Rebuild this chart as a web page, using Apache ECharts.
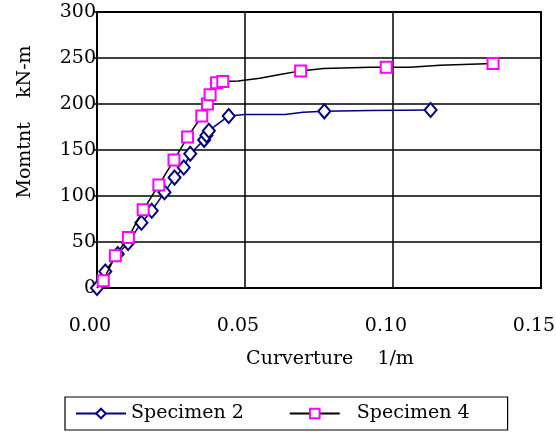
<!DOCTYPE html>
<html>
<head>
<meta charset="utf-8">
<script src="https://cdn.jsdelivr.net/npm/echarts@6/dist/echarts.min.js"></script>
<style>
  html, body { margin: 0; padding: 0; background: #fff; }
  #chart { width: 556px; height: 434px; }
</style>
</head>
<body>
<div id="chart"></div>
<script>
// Moment–curvature test results
const seriesNames = ['Specimen 2', 'Specimen 4'];

// Specimen 2: measured points (drawn with diamonds)
const spec2Curvature = [0.000, 0.0028, 0.0070, 0.0105, 0.0150, 0.0185, 0.0228, 0.0262, 0.0293, 0.0315, 0.0362, 0.0370, 0.0378, 0.0445, 0.0768, 0.1127];
const spec2Moment    = [0, 18, 37, 49, 71, 84, 104, 120, 131, 146, 161, 166, 171, 187, 192, 193.5];
// Specimen 2: extra curve points between markers
const spec2CurveX = [0.050, 0.0635, 0.0696, 0.0922];
const spec2CurveY = [188.5, 188.5, 191, 193];

// Specimen 4: measured points (drawn with squares)
const spec4Curvature = [0.0021, 0.0062, 0.0106, 0.0156, 0.0209, 0.0260, 0.0306, 0.0354, 0.0373, 0.0382, 0.0404, 0.0425, 0.0688, 0.0977, 0.1338];
const spec4Moment    = [8, 35, 55, 85, 112, 139, 164, 187, 200, 210, 223, 224.5, 236, 240, 244];
// Specimen 4: extra curve points between markers
const spec4CurveX = [0.000, 0.0477, 0.055, 0.0618, 0.0765, 0.0922, 0.1057, 0.1159];
const spec4CurveY = [0, 225, 228, 232, 238.5, 240, 240, 242];

const xTicks = [0, 0.05, 0.10, 0.15];
const yTicks = [0, 50, 100, 150, 200, 250, 300];

const FONT = 'DejaVu Serif';

function buildData(mx, my, cx, cy) {
  const pts = [];
  mx.forEach((x, i) => pts.push({ value: [x, my[i]] }));
  cx.forEach((x, i) => pts.push({ value: [x, cy[i]], symbol: 'none' }));
  pts.sort((a, b) => a.value[0] - b.value[0]);
  return pts;
}

// plain axis used only to close the plot frame on the top / right
function frameAxis(position, min, max) {
  return {
    type: 'value', position, min, max,
    axisLine: { show: true, onZero: false, lineStyle: { color: '#000', width: 2 } },
    axisTick: { show: false },
    axisLabel: { show: false },
    splitLine: { show: false }
  };
}

const chart = echarts.init(document.getElementById('chart'), null, { renderer: 'canvas' });

chart.setOption({
  animation: false,
  backgroundColor: '#fff',
  textStyle: { fontFamily: FONT, color: '#000' },
  grid: {
    left: 97, right: 15, top: 12, bottom: 146,
    outerBoundsMode: 'none',
    containLabel: false,
    show: true, borderColor: '#000', borderWidth: 2, backgroundColor: 'transparent'
  },
  xAxis: [{
    type: 'value',
    min: xTicks[0], max: xTicks[xTicks.length - 1], interval: 0.05,
    name: 'Curverture    1/m',
    nameLocation: 'middle',
    nameGap: 62,
    nameTextStyle: { fontFamily: FONT, fontSize: 19, color: '#000', padding: [0, 0, 0, 22] },
    axisLine: { show: true, lineStyle: { color: '#000', width: 2 } },
    axisTick: { show: false },
    axisLabel: {
      fontFamily: FONT, fontSize: 19, color: '#000', margin: 29,
      padding: [0, 14, 0, 0],
      formatter: v => v.toFixed(2)
    },
    splitLine: { show: true, lineStyle: { color: '#000', width: 1.5 } }
  }, frameAxis('top', xTicks[0], xTicks[xTicks.length - 1])],
  yAxis: [{
    type: 'value',
    min: yTicks[0], max: yTicks[yTicks.length - 1], interval: 50,
    name: 'Momtnt    kN-m',
    nameLocation: 'middle',
    nameGap: 62,
    nameRotate: 90,
    nameTextStyle: { fontFamily: FONT, fontSize: 19, color: '#000', padding: [0, 0, 0, 56] },
    axisLine: { show: true, lineStyle: { color: '#000', width: 2 } },
    axisTick: { show: true, length: 4, lineStyle: { color: '#000', width: 1.5 } },
    axisLabel: { fontFamily: FONT, fontSize: 19, color: '#000', margin: 1, padding: [6, 0, 0, 0] },
    splitLine: { show: true, lineStyle: { color: '#000', width: 1.5 } }
  }, frameAxis('right', yTicks[0], yTicks[yTicks.length - 1])],
  legend: {
    left: 65, top: 397,
    padding: [7, 38, 7, 10],
    itemGap: 45,
    itemWidth: 50, itemHeight: 12,
    borderColor: '#000', borderWidth: 1.2, borderRadius: 0,
    selectedMode: false,
    textStyle: { fontFamily: FONT, fontSize: 19, color: '#000' },
    formatter: name => (name === seriesNames[1] ? '  ' + name : name),
    data: seriesNames
  },
  series: [
    {
      name: seriesNames[0],
      type: 'line',
      data: buildData(spec2Curvature, spec2Moment, spec2CurveX, spec2CurveY),
      symbol: 'emptyDiamond',
      symbolSize: [12, 14],
      showAllSymbol: true,
      lineStyle: { color: '#000080', width: 1.5 },
      itemStyle: { color: '#000080', borderWidth: 2 },
      z: 2
    },
    {
      name: seriesNames[1],
      type: 'line',
      data: buildData(spec4Curvature, spec4Moment, spec4CurveX, spec4CurveY),
      symbol: 'emptyRect',
      symbolSize: 11,
      showAllSymbol: true,
      lineStyle: { color: '#000', width: 1.5 },
      itemStyle: { color: '#ff00ff', borderWidth: 2 },
      z: 3
    }
  ]
});
</script>
</body>
</html>
